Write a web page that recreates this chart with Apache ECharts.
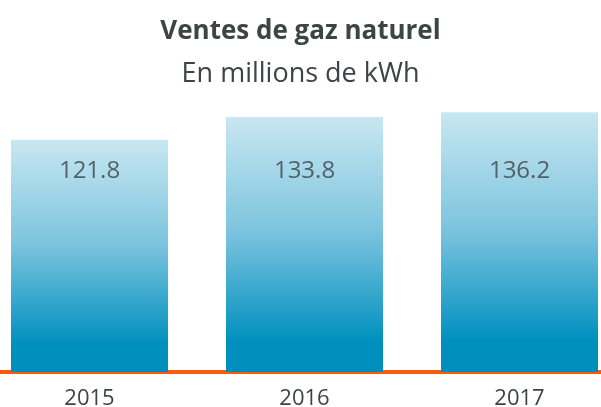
<!DOCTYPE html>
<html>
<head>
<meta charset="utf-8">
<script src="https://cdn.jsdelivr.net/npm/echarts@6/dist/echarts.min.js"></script>
<style>
  html, body { margin: 0; padding: 0; background: #fff; }
  #chart { width: 601px; height: 407px; }
</style>
</head>
<body>
<div id="chart"></div>
<script>
var years = ['2015', '2016', '2017'];
var ventes = [121.8, 133.8, 136.2];
// the value labels all sit on one line, a little under the top of the tallest bar
var labelLevel = [105.5, 105.5, 105.5];

var chart = echarts.init(document.getElementById('chart'));

var option = {
    animation: false,
    title: [{
        text: 'Ventes de gaz naturel',
        left: 'center',
        top: 14,
        textStyle: { fontFamily: 'Open Sans', fontSize: 26, fontWeight: 'bold', color: '#3d4446' }
    }, {
        text: 'En millions de kWh',
        left: 'center',
        top: 56,
        textStyle: { fontFamily: 'Open Sans', fontSize: 27, fontWeight: 'normal', color: '#3d4446' }
    }],
    grid: {
        left: -18,
        width: 645,
        top: 86,
        bottom: 35,
        outerBoundsMode: 'none',
        containLabel: false
    },
    xAxis: {
        type: 'category',
        data: years,
        axisLine: { lineStyle: { color: '#ff5a0a', width: 4 } },
        axisTick: { show: false },
        axisLabel: {
            margin: 16,
            fontFamily: 'Open Sans',
            fontSize: 22,
            color: '#3d4446'
        }
    },
    yAxis: {
        type: 'value',
        min: 0,
        max: 150,
        show: false,
        splitLine: { show: false }
    },
    series: [{
        type: 'bar',
        data: ventes,
        barWidth: 157,
        itemStyle: {
            color: new echarts.graphic.LinearGradient(0, 0, 0, 1, [
                { offset: 0, color: '#c8e7f1' },
                { offset: 0.45, color: '#7cc4de' },
                { offset: 0.88, color: '#0090be' },
                { offset: 1, color: '#008fbd' }
            ])
        }
    }, {
        type: 'scatter',
        data: labelLevel,
        symbolSize: 0,
        silent: true,
        label: {
            show: true,
            position: 'inside',
            fontFamily: 'Open Sans',
            fontSize: 24,
            color: '#3d4446',
            formatter: function (p) {
                return ventes[p.dataIndex].toFixed(1);
            }
        }
    }]
};

chart.setOption(option);
</script>
</body>
</html>
